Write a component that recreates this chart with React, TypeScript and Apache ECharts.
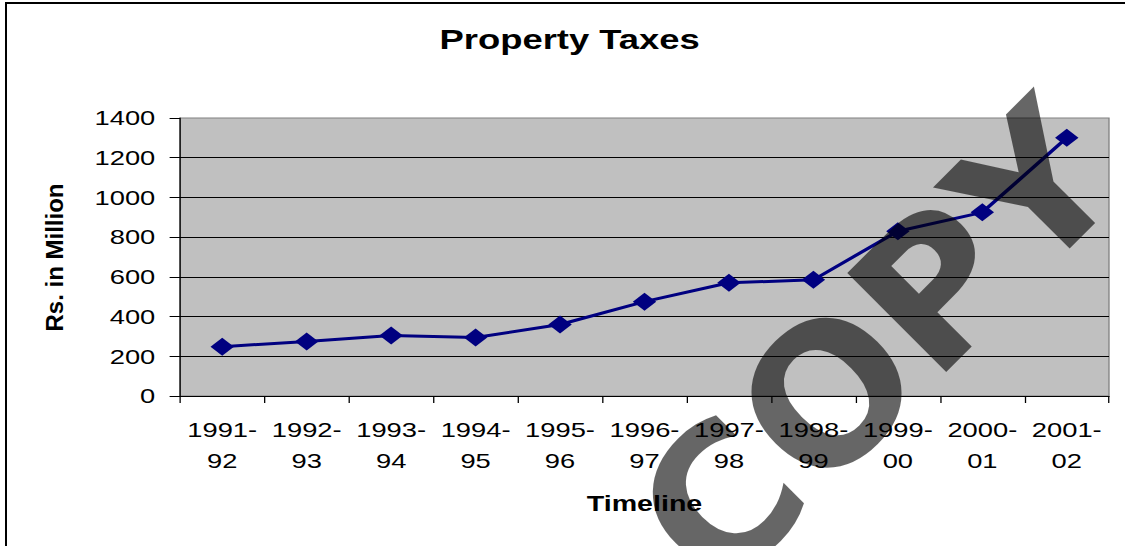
import React, { useEffect, useRef } from "react";
import * as echarts from "echarts";

// ---- data ----
const categories = [
  "1991-92", "1992-93", "1993-94", "1994-95", "1995-96", "1996-97",
  "1997-98", "1998-99", "1999-00", "2000-01", "2001-02",
];
const propertyTaxes = [248, 275, 305, 295, 360, 475, 570, 585, 830, 925, 1300];
const yTicks = { min: 0, max: 1400, interval: 200 };
const titleText = "Property Taxes";
const xAxisTitle = "Timeline";
const yAxisTitle = "Rs. in Million";
const watermarkText = "COPY";

// the reference is horizontally stretched; reproduce by scaling the chart box
const W = 865;
const H = 546;
const FULL_W = 1125;
const S = FULL_W / W;
const FONT = "'Liberation Sans', Arial, sans-serif";

export default function App() {
  const ref = useRef<HTMLDivElement>(null);
  const overlayRef = useRef<HTMLDivElement>(null);
  useEffect(() => {
    if (!ref.current || !overlayRef.current) return;
    const chart = echarts.init(ref.current, null, { renderer: "svg" });
    chart.setOption({
      animation: false,
      backgroundColor: "#ffffff",
      textStyle: { fontFamily: FONT },
      title: {
        text: titleText,
        left: 438,
        textAlign: "center",
        top: 26,
        padding: 0,
        textStyle: { fontSize: 28, fontWeight: "bold", color: "#000", fontFamily: FONT },
      },
      grid: {
        left: 138.4,
        right: 12.3,
        top: 118,
        bottom: 150,
        show: true,
        backgroundColor: "#c0c0c0",
        borderColor: "#808080",
        borderWidth: 1,
        containLabel: false,
        outerBoundsMode: "none",
      },
      xAxis: {
        type: "category",
        data: categories,
        boundaryGap: true,
        name: xAxisTitle,
        nameLocation: "middle",
        nameGap: 96,
        nameTextStyle: { fontSize: 22, fontWeight: "bold", color: "#000", fontFamily: FONT },
        axisLine: { show: true, lineStyle: { color: "#000", width: 1 } },
        axisTick: { show: true, length: 7, interval: 0, alignWithLabel: false, lineStyle: { color: "#000" } },
        axisLabel: {
          interval: 0,
          fontSize: 21,
          lineHeight: 31,
          margin: 18,
          color: "#000",
          fontFamily: FONT,
          formatter: (v: string) => v.replace("-", "-\n"),
        },
        splitLine: { show: false },
      },
      yAxis: {
        type: "value",
        min: yTicks.min,
        max: yTicks.max,
        interval: yTicks.interval,
        axisLine: { show: true, lineStyle: { color: "#000", width: 1 } },
        axisTick: { show: true, length: 8, lineStyle: { color: "#000" } },
        axisLabel: {
          fontSize: 21,
          margin: 19,
          color: "#000",
          fontFamily: FONT,
          formatter: (v: number) => String(v),
        },
        splitLine: {
          show: true,
          showMinLine: false,
          showMaxLine: false,
          lineStyle: { color: "#000", width: 1 },
        },
      },
      series: [
        {
          type: "line",
          data: propertyTaxes,
          symbol: "diamond",
          symbolSize: 18,
          lineStyle: { color: "#000080", width: 3 },
          itemStyle: { color: "#000080" },
        },
      ],
    });

    // unstretched overlay: frame, rotated axis title, watermark
    const overlay = echarts.init(overlayRef.current, null, { renderer: "svg" });
    overlay.setOption({
      animation: false,
      graphic: [
        {
          type: "rect",
          shape: { x: 6, y: 3, width: 1400, height: 800 },
          style: { fill: "none", stroke: "#000", lineWidth: 2 },
        },
        {
          type: "text",
          x: 54,
          y: 257.5,
          rotation: Math.PI / 2,
          style: {
            text: yAxisTitle,
            fontSize: 24,
            fontWeight: "bold",
            fontFamily: FONT,
            fill: "#000",
            align: "center",
            verticalAlign: "middle",
            textAlign: "center",
            textVerticalAlign: "middle",
          },
        },
        {
          type: "text",
          x: 878,
          y: 346,
          rotation: (45 * Math.PI) / 180,
          style: {
            text: watermarkText,
            fontSize: 192,
            fontWeight: "bold",
            fontFamily: "'DejaVu Sans', sans-serif",
            fill: "rgba(0,0,0,0.6)",
            align: "center",
            verticalAlign: "middle",
            textAlign: "center",
            textVerticalAlign: "middle",
          },
        },
      ],
    });
    return () => {
      chart.dispose();
      overlay.dispose();
    };
  }, []);
  return (
    <>
      <div
        ref={ref}
        style={{
          position: "absolute",
          left: 0,
          top: 0,
          width: W,
          height: H,
          transform: `scaleX(${S})`,
          transformOrigin: "0 0",
          background: "#fff",
        }}
      />
      <div
        ref={overlayRef}
        style={{
          position: "absolute",
          left: 0,
          top: 0,
          width: FULL_W,
          height: H,
          zIndex: 1,
          pointerEvents: "none",
        }}
      />
    </>
  );
}
